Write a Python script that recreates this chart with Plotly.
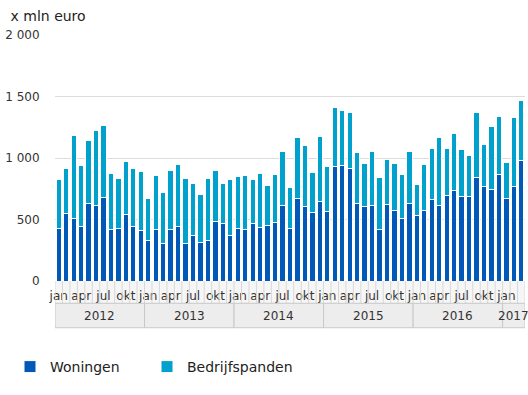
import plotly.graph_objects as go

months = ["jan", "feb", "mrt", "apr", "mei", "jun", "jul", "aug", "sep", "okt", "nov", "dec"]
years = ["2012", "2013", "2014", "2015", "2016", "2017"]
months_per_year = [12, 12, 12, 12, 12, 3]
shown_months = ["jan", "apr", "jul", "okt"]

woningen = [
    424, 545, 505, 440, 629, 610, 678, 416, 424, 537, 443, 410,
    327, 421, 302, 416, 440, 302, 373, 311, 332, 486, 470, 367,
    424, 421, 464, 432, 448, 472, 610, 424, 667, 602, 553, 648,
    562, 934, 940, 915, 634, 602, 610, 421, 618, 570, 505, 634,
    529, 570, 659, 610, 699, 732, 683, 691, 845, 772, 748, 869,
    670, 772, 983,
]
bedrijfspanden = [
    402, 370, 678, 497, 513, 613, 586, 456, 410, 435, 472, 481,
    345, 435, 416, 483, 505, 532, 418, 391, 500, 413, 321, 459,
    424, 435, 362, 440, 327, 392, 443, 335, 497, 497, 327, 524,
    369, 473, 450, 459, 411, 354, 443, 421, 370, 386, 362, 419,
    257, 378, 418, 554, 378, 467, 386, 330, 529, 338, 508, 468,
    294, 554, 483,
]
y_ticks = [0, 500, 1000, 1500, 2000]
y_ticktext = ["0", "500", "1 000", "1 500", "2 000"]

labels = []
for y, n in zip(years, months_per_year):
    for m in months[:n]:
        labels.append((y, m))
x = list(range(len(labels)))

FONT = "DejaVu Sans"
DARK = "#0058b8"
LIGHT = "#00a1cd"

fig = go.Figure()
fig.add_trace(go.Bar(x=x, y=woningen, name="Woningen", legend="legend", showlegend=True,
                     marker=dict(color=DARK, line=dict(color="white", width=1))))
fig.add_trace(go.Bar(x=x, y=bedrijfspanden, name="Bedrijfspanden", legend="legend2", showlegend=True,
                     marker=dict(color=LIGHT, line=dict(color="white", width=1))))

tickvals = [i for i, (y, m) in enumerate(labels) if m in shown_months]
ticktext = [labels[i][1] for i in tickvals]

ROW1 = -0.0907
ROW2 = -0.19
shapes = []
shapes.append(dict(type="rect", xref="x", yref="paper", x0=-0.5, x1=len(x) - 0.5, y0=0, y1=ROW1,
                   fillcolor="#f6f6f6", line=dict(width=0), layer="below"))
for i in range(len(x) + 1):
    shapes.append(dict(type="line", xref="x", yref="paper", x0=i - 0.5, x1=i - 0.5, y0=0, y1=ROW1,
                       line=dict(color="#d8d8d8", width=1)))
annotations = []
start = 0
for y, n in zip(years, months_per_year):
    shapes.append(dict(type="rect", xref="x", yref="paper", x0=start - 0.5, x1=start + n - 0.5,
                       y0=ROW1, y1=ROW2, fillcolor="#ededed", line=dict(color="#c8c8c8", width=1)))
    annotations.append(dict(x=start + (n - 1) / 2, y=(ROW1 + ROW2) / 2, xref="x", yref="paper", text=y,
                            showarrow=False, font=dict(family=FONT, size=12, color="#333333"),
                            xanchor="center", yanchor="middle"))
    start += n

legend_style = dict(orientation="h", xanchor="left", xref="container", yref="container",
                    y=28 / 395, yanchor="middle",
                    font=dict(family=FONT, size=14, color="#222222"), bgcolor="rgba(0,0,0,0)")

fig.update_layout(
    width=528, height=395,
    margin=dict(l=55, r=3, t=35, b=114),
    barmode="stack",
    bargap=0.29,
    plot_bgcolor="white",
    paper_bgcolor="white",
    font=dict(family=FONT, size=12, color="#333333"),
    title=dict(text="x mln euro", x=0.02, xanchor="left", y=0.96, yanchor="middle",
               font=dict(family=FONT, size=14, color="#222222")),
    xaxis=dict(range=[-0.5, len(x) - 0.5], tickvals=tickvals, ticktext=ticktext, showgrid=False,
               zeroline=False, showline=False, ticks="", tickfont=dict(size=12, color="#333333"),
               ticklabelstandoff=6, fixedrange=True),
    yaxis=dict(range=[0, 2000], tickvals=y_ticks, ticktext=y_ticktext, showgrid=True, gridcolor="#dddddd",
               gridwidth=1, zeroline=False, showline=False, ticks="outside", ticklen=12,
               tickcolor="rgba(0,0,0,0)", tickfont=dict(size=12, color="#333333")),
    legend=dict(x=10 / 528, **legend_style),
    legend2=dict(x=147 / 528, **legend_style),
    shapes=shapes,
    annotations=annotations,
)

fig.write_html("out.html", config={"displayModeBar": False},
               post_script="document.body.style.margin='0';document.body.style.overflow='hidden';")
